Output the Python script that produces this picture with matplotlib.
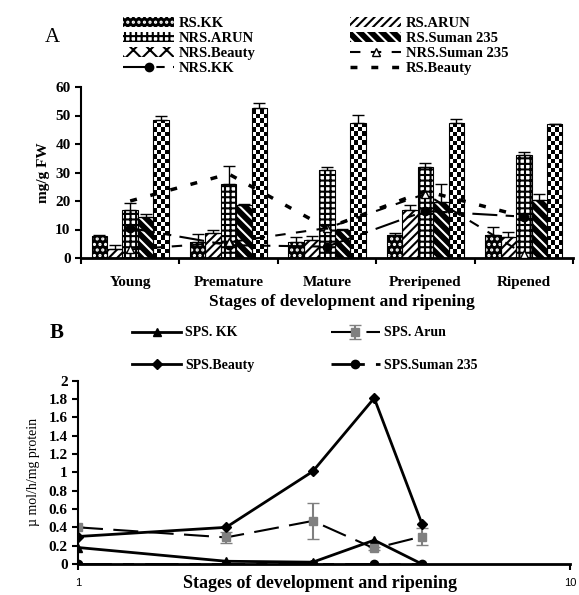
import numpy as np
import matplotlib
matplotlib.use("Agg")
import matplotlib.pyplot as plt

plt.rcParams['font.family'] = ['Liberation Serif', 'DejaVu Serif']
plt.rcParams['hatch.linewidth'] = 1.5

# Panel A data
stages = ['Young', 'Premature', 'Mature', 'Preripened', 'Ripened']
rs_kk = [7.7, 5.7, 5.7, 8.0, 8.0]
rs_arun = [3.3, 8.7, 6.3, 16.8, 7.3]
nrs_arun = [16.8, 25.8, 31.0, 31.8, 36.3]
rs_suman = [14.3, 18.5, 9.8, 19.7, 20.2]
nrs_beauty = [48.3, 52.5, 47.5, 47.3, 47.0]
rs_kk_err = [0.5, 2.7, 1.6, 0.7, 3.0]
rs_arun_err = [1.2, 1.1, 1.4, 1.7, 1.7]
nrs_arun_err = [2.5, 6.6, 0.8, 1.4, 1.0]
rs_suman_err = [1.0, 0.5, 0.5, 6.3, 2.4]
nrs_beauty_err = [1.7, 1.8, 2.7, 1.6, 0.0]
nrs_kk = [10.5, 4.5, 4.0, 16.5, 14.5]
nrs_suman = [3.0, 5.5, 10.5, 22.5, 1.5]
rs_beauty = [20.0, 29.5, 10.5, 23.5, 14.5]

# Panel B data
sps_x = [1, 2, 3, 4, 5]
sps_kk = [0.18, 0.03, 0.02, 0.26, 0.0]
sps_arun = [0.40, 0.29, 0.47, 0.17, 0.30]
sps_arun_err = [0.0, 0.06, 0.20, 0.02, 0.09]
sps_beauty = [0.30, 0.40, 1.01, 1.81, 0.44]
sps_suman = [0.0, 0.0, 0.0, 0.0, 0.0]

fig = plt.figure(figsize=(5.79, 5.95), dpi=100)

# ---------------- Panel A ----------------
ax = fig.add_axes([81/579, 1-258/595, 492/579, 171/595])
x = np.arange(len(stages))
w = 0.157

bar_series = [
    (rs_kk, rs_kk_err, 'RS.KK', 'black', 'white', '...'),
    (rs_arun, rs_arun_err, 'RS.ARUN', 'white', 'black', '////'),
    (nrs_arun, nrs_arun_err, 'NRS.ARUN', 'white', 'black', '+++'),
    (rs_suman, rs_suman_err, 'RS.Suman 235', 'black', 'white', '\\\\\\'),
    (nrs_beauty, nrs_beauty_err, 'NRS.Beauty', 'white', 'black', 'xx'),
]
handles = {}
for i, (vals, errs, name, face, hcol, hatch) in enumerate(bar_series):
    pos = x + (i - 2) * w
    b = ax.bar(pos, vals, w, facecolor=face, edgecolor=hcol, hatch=hatch,
               linewidth=0, label=name, zorder=2)
    ax.bar(pos, vals, w, fill=False, edgecolor='black', linewidth=0.8, zorder=3)
    ax.errorbar(pos, vals, yerr=[np.zeros(len(errs)), errs], fmt='none',
                ecolor='black', elinewidth=1, capsize=4, zorder=4)
    handles[name] = b

# checkerboard fill for the NRS.Beauty bars
cell = 4.5  # pixels
for rect in handles['NRS.Beauty']:
    x0, bw, bh = rect.get_x(), rect.get_width(), rect.get_height()
    nrows = max(1, int(np.ceil(bh * 2.85 / cell)))
    board = np.indices((nrows, 4)).sum(axis=0) % 2
    im = ax.imshow(board, extent=(x0, x0 + bw, 0, nrows * cell / 2.85), cmap='gray',
                   interpolation='nearest', aspect='auto', origin='lower', zorder=2.5)
    im.set_clip_path(rect)

l1, = ax.plot(x, nrs_kk, color='black', lw=1.5, dashes=(12, 4, 4, 4),
              marker='o', ms=6, label='NRS.KK', zorder=5)
l2, = ax.plot(x, nrs_suman, color='black', lw=1.5, dashes=(5, 5),
              marker='^', ms=6, mfc='white', mec='black', label='NRS.Suman 235', zorder=5)
l3, = ax.plot(x, rs_beauty, color='black', lw=2.5, dashes=(2, 4),
              label='RS.Beauty', zorder=5)

ax.set_xlim(-0.5, 4.5)
ax.set_ylim(0, 60)
ax.set_yticks(range(0, 61, 10))
ax.set_xticks(np.arange(-0.5, 5, 1.0))
ax.set_xticklabels([])
ax.tick_params(axis='x', direction='out', length=4, width=1.5)
ax.tick_params(axis='y', direction='out', length=4, width=1.5, labelsize=11)
for t in ax.get_yticklabels():
    t.set_fontweight('bold')
for i, s in enumerate(stages):
    ax.text(i, -6.3, s, ha='center', va='top', fontsize=11, fontweight='bold')
ax.text(2.15, -12.8, 'Stages of development and ripening', ha='center', va='top',
        fontsize=12.5, fontweight='bold')
ax.set_ylabel('mg/g FW', fontsize=11, fontweight='bold', labelpad=4)
for s in ['top', 'right']:
    ax.spines[s].set_visible(False)
ax.spines['left'].set_linewidth(1.5)
ax.spines['bottom'].set_linewidth(2)

order = [handles['RS.KK'], handles['NRS.ARUN'], handles['NRS.Beauty'], l1,
         handles['RS.ARUN'], handles['RS.Suman 235'], l2, l3]
labs = ['RS.KK', 'NRS.ARUN', 'NRS.Beauty', 'NRS.KK',
        'RS.ARUN', 'RS.Suman 235', 'NRS.Suman 235', 'RS.Beauty']
fig.legend(order, labs, loc='upper left', bbox_to_anchor=(110/579, 1-4/595),
           ncol=2, frameon=False, handlelength=3.5, handleheight=0.7,
           labelspacing=0.12, columnspacing=6.5, handletextpad=0.3,
           prop={'weight': 'bold', 'size': 10.5})
fig.text(52/579, 1-37/595, 'A', ha='center', va='center', fontsize=15)

# ---------------- Panel B ----------------
bx = fig.add_axes([78/579, 1-564/595, 492/579, 183.3/595])
k1, = bx.plot(sps_x, sps_kk, color='black', lw=2, marker='^', ms=6, label='SPS. KK')
k2 = bx.errorbar(sps_x, sps_arun, yerr=sps_arun_err, color='black', lw=1.5,
                 dashes=(12, 5), marker='s', ms=6, mfc='#808080', mec='#808080',
                 ecolor='#808080', capsize=4, label='SPS. Arun')
k3, = bx.plot(sps_x, sps_beauty, color='black', lw=2, marker='D', ms=5, label='SPS.Beauty')
k4, = bx.plot(sps_x, sps_suman, color='black', lw=2, dashes=(12, 4, 4, 4),
              marker='o', ms=6, label='SPS.Suman 235')
bx.set_xscale('log')
bx.set_xlim(1, 10)
bx.set_ylim(0, 2)
bx.set_xticks([1, 10])
bx.set_xticklabels(['1', '10'], family='Liberation Sans', fontsize=8)
bx.xaxis.set_minor_locator(matplotlib.ticker.NullLocator())
bx.set_yticks(np.arange(0, 2.01, 0.2))
bx.set_yticklabels(['0', '0.2', '0.4', '0.6', '0.8', '1', '1.2', '1.4', '1.6', '1.8', '2'],
                   fontweight='bold', fontsize=11)
bx.tick_params(axis='both', direction='out', length=4, width=1.5)
bx.tick_params(axis='x', pad=6)
for s in ['top', 'right']:
    bx.spines[s].set_visible(False)
bx.spines['left'].set_linewidth(1.5)
bx.spines['bottom'].set_linewidth(2)
bx.set_ylabel('\u00b5 mol/h/mg protein', fontsize=10, labelpad=6)
fig.text(320/579, 1-584/595, 'Stages of development and ripening', ha='center',
         va='center', fontsize=13, fontweight='bold')
fig.legend([k1, k3, k2, k4], ['SPS. KK', 'SPS.Beauty', 'SPS. Arun', 'SPS.Suman 235'],
           loc='upper left', bbox_to_anchor=(120/579, 1-314/595), ncol=2,
           frameon=False, handlelength=3.5, labelspacing=1.4, columnspacing=5.5,
           handletextpad=0.3, prop={'weight': 'bold', 'size': 10})
fig.text(57/579, 1-333/595, 'B', ha='center', va='center', fontsize=15, fontweight='bold')

fig.savefig('out.png', dpi=100)
